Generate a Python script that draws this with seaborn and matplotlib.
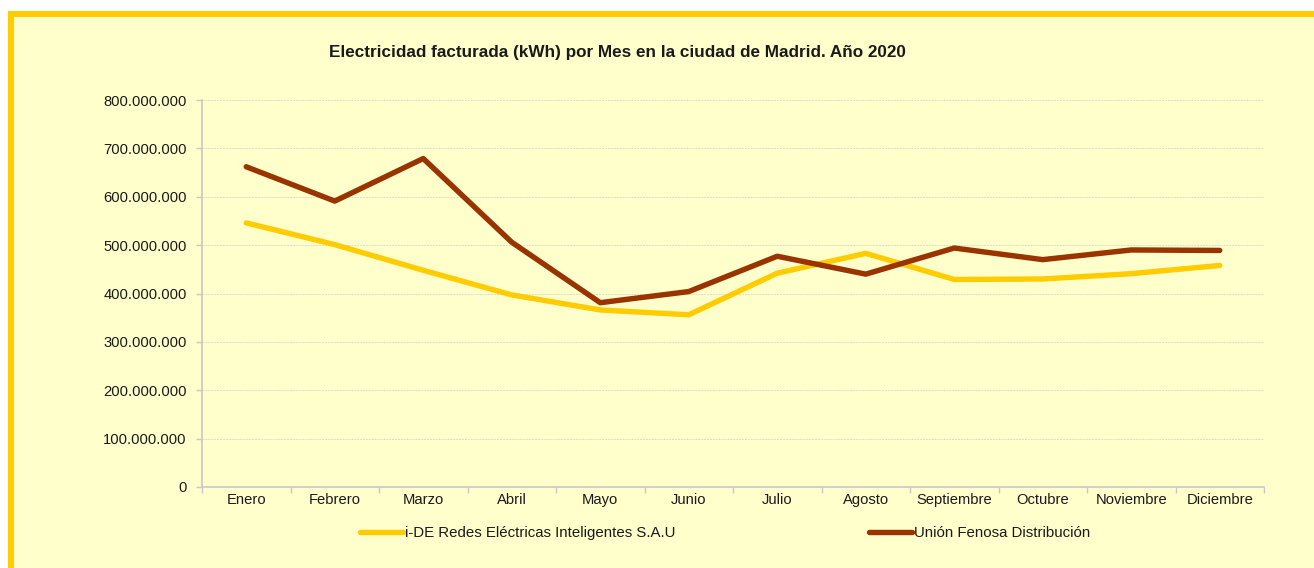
import numpy as np
import pandas as pd
import seaborn as sns
import matplotlib.pyplot as plt
from matplotlib.patches import Rectangle
from matplotlib.ticker import FuncFormatter, FixedLocator

meses = ['Enero', 'Febrero', 'Marzo', 'Abril', 'Mayo', 'Junio', 'Julio',
         'Agosto', 'Septiembre', 'Octubre', 'Noviembre', 'Diciembre']
ide = [546e6, 501e6, 448e6, 397e6, 366e6, 356e6, 442e6,
       483e6, 429e6, 430e6, 441e6, 458e6]
ufd = [662e6, 591e6, 679e6, 506e6, 381e6, 404e6, 477e6,
       440e6, 494e6, 470e6, 490e6, 489e6]
series = ['i-DE Redes Eléctricas Inteligentes S.A.U', 'Unión Fenosa Distribución']
colores = ['#FFCC00', '#993300']

df = pd.DataFrame({
    'mes': meses * 2,
    'pos': list(range(len(meses))) * 2,
    'kwh': ide + ufd,
    'empresa': [series[0]] * len(meses) + [series[1]] * len(meses),
})

sns.set_style('white')
plt.rcParams['font.family'] = ['Liberation Sans', 'DejaVu Sans']
plt.rcParams['text.color'] = '#1a1a1a'

fig = plt.figure(figsize=(13.14, 5.68), dpi=100, facecolor='white')
W, H = 1314, 568
# marco amarillo
fig.patches.append(Rectangle((11 / W, -0.2), 1.3, 1.2 - 14 / H,
                             transform=fig.transFigure, facecolor='#FFFFCC',
                             edgecolor='#FFCC00', linewidth=4.4, zorder=-10))

ax = fig.add_axes([202 / W, 1 - 487 / H, (1264 - 202) / W, (487 - 100) / H])
ax.set_facecolor('none')
sns.lineplot(data=df, x='pos', y='kwh', hue='empresa', palette=colores,
             linewidth=3.9, sort=False, ax=ax, solid_capstyle='round')

ax.set_xlim(-0.5, len(meses) - 0.5)
ax.set_ylim(0, 800e6)
ax.set_yticks(np.arange(0, 800e6 + 1, 100e6))
ax.yaxis.set_major_formatter(FuncFormatter(lambda v, p: f'{v:,.0f}'.replace(',', '.')))
ax.set_xticks(range(len(meses)))
ax.set_xticklabels(meses)
ax.xaxis.set_minor_locator(FixedLocator(np.arange(-0.5, len(meses), 1)))
ax.tick_params(axis='x', which='major', length=0, pad=4, labelsize=10.6, colors='#1a1a1a')
ax.tick_params(axis='x', which='minor', length=4, width=1, color='#C8C8C8', bottom=True)
ax.tick_params(axis='y', length=4, width=1, color='#C8C8C8', pad=7, labelsize=10.6, labelcolor='#1a1a1a', left=True)
ax.grid(axis='y', color='#DCDCC8', linestyle=(0, (2, 1)), linewidth=0.7)
for s in ['top', 'right']:
    ax.spines[s].set_visible(False)
for s in ['left', 'bottom']:
    ax.spines[s].set_color('#C8C8C8')
    ax.spines[s].set_linewidth(1.2)
ax.set_xlabel('')
ax.set_ylabel('')

handles, labels = ax.get_legend_handles_labels()
ax.get_legend().remove()
fig.legend(handles, labels, loc='center', bbox_to_anchor=(725 / W, 1 - 533 / H),
           ncol=2, frameon=False, fontsize=10.8, handlelength=2.9,
           handletextpad=0.12, columnspacing=12.9, borderpad=0)

fig.text(617 / W, 1 - 52 / H, 'Electricidad facturada (kWh) por Mes en la ciudad de Madrid. Año 2020',
         ha='center', va='center', fontsize=12.3, fontweight='bold')

fig.savefig('out.png', dpi=100, facecolor='white')
